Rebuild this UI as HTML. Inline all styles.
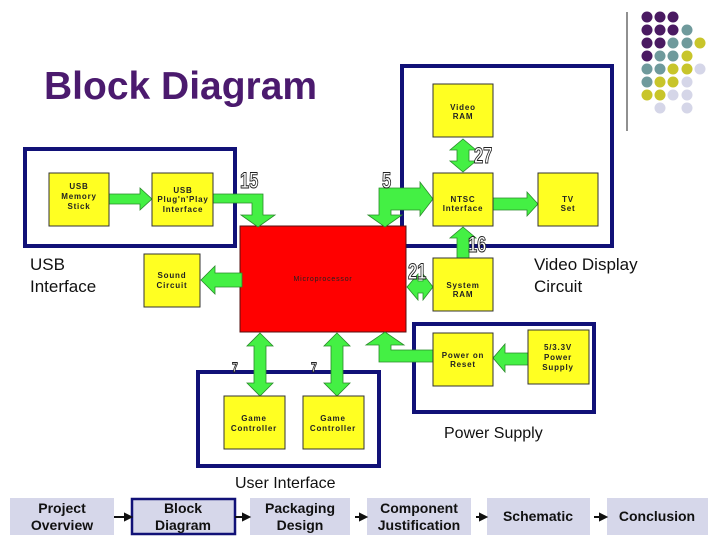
<!DOCTYPE html>
<html><head><meta charset="utf-8"><style>
html,body{margin:0;padding:0;background:#fff;width:720px;height:540px;overflow:hidden}
svg{display:block}
.bx{fill:#ffff22;stroke:#333;stroke-width:1}
.t{font-family:"Liberation Sans",sans-serif;font-weight:bold;font-size:8px;fill:#222;text-anchor:middle;letter-spacing:0.8px}
.ar{fill:#44f044;stroke:#2a8a2a;stroke-width:0.8}
.nb{fill:#fff;stroke:#222;stroke-width:1;font-family:"Liberation Sans",sans-serif;font-weight:bold;font-size:22px}
.lab{font-family:"Liberation Sans",sans-serif;font-size:17px;fill:#111}
.nav{fill:#d6d7ea}
.nt{font-family:"Liberation Sans",sans-serif;font-weight:bold;font-size:14px;fill:#111;text-anchor:middle}
.grp{fill:none;stroke:#111177;stroke-width:4}
</style></head><body>
<svg width="720" height="540" viewBox="0 0 720 540" xmlns="http://www.w3.org/2000/svg">
<text x="44" y="99" font-family="Liberation Sans,sans-serif" font-weight="bold" font-size="39" fill="#4b1a6e">Block Diagram</text>
<line x1="627" y1="12" x2="627" y2="131" stroke="#222" stroke-width="1"/>
<g>
<circle cx="647" cy="17" r="5.5" fill="#4a1a62"/><circle cx="660" cy="17" r="5.5" fill="#4a1a62"/><circle cx="673" cy="17" r="5.5" fill="#4a1a62"/>
<circle cx="647" cy="30" r="5.5" fill="#4a1a62"/><circle cx="660" cy="30" r="5.5" fill="#4a1a62"/><circle cx="673" cy="30" r="5.5" fill="#4a1a62"/><circle cx="687" cy="30" r="5.5" fill="#6f9a9c"/>
<circle cx="647" cy="43" r="5.5" fill="#4a1a62"/><circle cx="660" cy="43" r="5.5" fill="#4a1a62"/><circle cx="673" cy="43" r="5.5" fill="#6f9a9c"/><circle cx="687" cy="43" r="5.5" fill="#6f9a9c"/><circle cx="700" cy="43" r="5.5" fill="#c8c52a"/>
<circle cx="647" cy="56" r="5.5" fill="#4a1a62"/><circle cx="660" cy="56" r="5.5" fill="#6f9a9c"/><circle cx="673" cy="56" r="5.5" fill="#6f9a9c"/><circle cx="687" cy="56" r="5.5" fill="#c8c52a"/>
<circle cx="647" cy="69" r="5.5" fill="#6f9a9c"/><circle cx="660" cy="69" r="5.5" fill="#6f9a9c"/><circle cx="673" cy="69" r="5.5" fill="#c8c52a"/><circle cx="687" cy="69" r="5.5" fill="#c8c52a"/><circle cx="700" cy="69" r="5.5" fill="#d5d6e8"/>
<circle cx="647" cy="82" r="5.5" fill="#6f9a9c"/><circle cx="660" cy="82" r="5.5" fill="#c8c52a"/><circle cx="673" cy="82" r="5.5" fill="#c8c52a"/><circle cx="687" cy="82" r="5.5" fill="#d5d6e8"/>
<circle cx="647" cy="95" r="5.5" fill="#c8c52a"/><circle cx="660" cy="95" r="5.5" fill="#c8c52a"/><circle cx="673" cy="95" r="5.5" fill="#d5d6e8"/><circle cx="687" cy="95" r="5.5" fill="#d5d6e8"/>
<circle cx="660" cy="108" r="5.5" fill="#d5d6e8"/><circle cx="687" cy="108" r="5.5" fill="#d5d6e8"/>
</g>

<rect class="grp" x="25" y="149" width="210" height="97"/>
<rect class="grp" x="402" y="66" width="210" height="180"/>
<rect class="grp" x="414" y="324" width="180" height="88"/>
<rect class="grp" x="198" y="372" width="181" height="94"/>

<rect x="240" y="226" width="166" height="106" fill="#ff0000" stroke="#551111" stroke-width="1"/>
<text class="t" x="323" y="281" style="font-weight:normal;font-size:7px">Microprocessor</text>

<polygon class="ar" points="109,194 140,194 140,188 152,199 140,210 140,204 109,204"/>
<polygon class="ar" points="213,194 263,194 263,215 275,215 258,227 241,215 252,215 252,203 213,203"/>
<polygon class="ar" points="368,215 379,215 379,188 420,188 420,182 433,199 420,216 420,210 391,210 391,215 402,215 385,227"/>
<polygon class="ar" points="242,273 215,273 215,266 201,280 215,294 215,287 242,287"/>
<polygon class="ar" points="463,139 476,150 469,150 469,161 476,161 463,172 450,161 457,161 457,150 450,150"/>
<polygon class="ar" points="493,198 527,198 527,192 538,204 527,216 527,210 493,210"/>
<polygon class="ar" points="463,227 476,238 469,238 469,258 457,258 457,238 450,238"/>
<polygon class="ar" points="407,287 418,274 418,281 423,281 423,274 433,287 423,300 423,293 418,293 418,300"/>
<polygon class="ar" points="528,353 505,353 505,344 493,358 505,372 505,365 528,365"/>
<polygon class="ar" points="433,350 391,350 391,345 404,345 385,332 366,345 379,345 379,362 433,362"/>
<polygon class="ar" points="260,333 273,346 266,346 266,383 273,383 260,396 247,383 254,383 254,346 247,346"/>
<polygon class="ar" points="337,333 350,346 343,346 343,383 350,383 337,396 324,383 331,383 331,346 324,346"/>

<rect class="bx" x="49" y="173" width="60" height="53"/>
<text class="t" x="79" y="189">USB</text><text class="t" x="79" y="199">Memory</text><text class="t" x="79" y="209">Stick</text>
<rect class="bx" x="152" y="173" width="61" height="53"/>
<text class="t" x="183" y="193">USB</text><text class="t" x="183" y="202">Plug'n'Play</text><text class="t" x="183" y="212">Interface</text>
<rect class="bx" x="144" y="254" width="56" height="53"/>
<text class="t" x="172" y="278">Sound</text><text class="t" x="172" y="288">Circuit</text>
<rect class="bx" x="433" y="84" width="60" height="53"/>
<text class="t" x="463" y="110">Video</text><text class="t" x="463" y="119">RAM</text>
<rect class="bx" x="433" y="173" width="60" height="53"/>
<text class="t" x="463" y="202">NTSC</text><text class="t" x="463" y="211">Interface</text>
<rect class="bx" x="538" y="173" width="60" height="53"/>
<text class="t" x="568" y="202">TV</text><text class="t" x="568" y="211">Set</text>
<rect class="bx" x="433" y="258" width="60" height="53"/>
<text class="t" x="463" y="288">System</text><text class="t" x="463" y="297">RAM</text>
<rect class="bx" x="433" y="333" width="60" height="53"/>
<text class="t" x="463" y="358">Power on</text><text class="t" x="463" y="367">Reset</text>
<rect class="bx" x="528" y="330" width="61" height="54"/>
<text class="t" x="558" y="350">5/3.3V</text><text class="t" x="558" y="360">Power</text><text class="t" x="558" y="370">Supply</text>
<rect class="bx" x="224" y="396" width="61" height="53"/>
<text class="t" x="254" y="421">Game</text><text class="t" x="254" y="431">Controller</text>
<rect class="bx" x="303" y="396" width="61" height="53"/>
<text class="t" x="333" y="421">Game</text><text class="t" x="333" y="431">Controller</text>

<text class="nb" transform="translate(240,188) scale(0.75,1)">15</text>
<text class="nb" transform="translate(382,188) scale(0.75,1)">5</text>
<text class="nb" transform="translate(474,163) scale(0.75,1)">27</text>
<text class="nb" transform="translate(468,252) scale(0.75,1)">16</text>
<text class="nb" transform="translate(408,279) scale(0.75,1)">21</text>
<text class="nb" style="font-size:14px" transform="translate(232,372) scale(0.75,1)">7</text>
<text class="nb" style="font-size:14px" transform="translate(311,372) scale(0.75,1)">7</text>

<text class="lab" x="30" y="270">USB</text><text class="lab" x="30" y="292">Interface</text>
<text class="lab" x="534" y="270">Video Display</text><text class="lab" x="534" y="292">Circuit</text>
<text class="lab" x="444" y="438" style="font-size:16px">Power Supply</text>
<text class="lab" x="235" y="488" style="font-size:16px">User Interface</text>

<rect class="nav" x="10" y="498" width="104" height="37"/>
<text class="nt" x="62" y="513">Project</text><text class="nt" x="62" y="530">Overview</text>
<rect class="nav" x="132" y="499" width="103" height="35" stroke="#111177" stroke-width="2.5"/>
<text class="nt" x="183" y="513">Block</text><text class="nt" x="183" y="530">Diagram</text>
<rect class="nav" x="250" y="498" width="100" height="37"/>
<text class="nt" x="300" y="513">Packaging</text><text class="nt" x="300" y="530">Design</text>
<rect class="nav" x="367" y="498" width="104" height="37"/>
<text class="nt" x="419" y="513">Component</text><text class="nt" x="419" y="530">Justification</text>
<rect class="nav" x="487" y="498" width="103" height="37"/>
<text class="nt" x="538" y="521">Schematic</text>
<rect class="nav" x="607" y="498" width="101" height="37"/>
<text class="nt" x="657" y="521">Conclusion</text>
<g stroke="#111" stroke-width="2" fill="#111">
<line x1="114" y1="517" x2="126" y2="517"/><polygon points="125,514 131,517 125,520"/>
<line x1="235" y1="517" x2="244" y2="517"/><polygon points="243,514 249,517 243,520"/>
<line x1="355" y1="517" x2="361" y2="517"/><polygon points="360,514 366,517 360,520"/>
<line x1="476" y1="517" x2="481" y2="517"/><polygon points="480,514 486,517 480,520"/>
<line x1="594" y1="517" x2="601" y2="517"/><polygon points="600,514 606,517 600,520"/>
</g>
</svg>
</body></html>
